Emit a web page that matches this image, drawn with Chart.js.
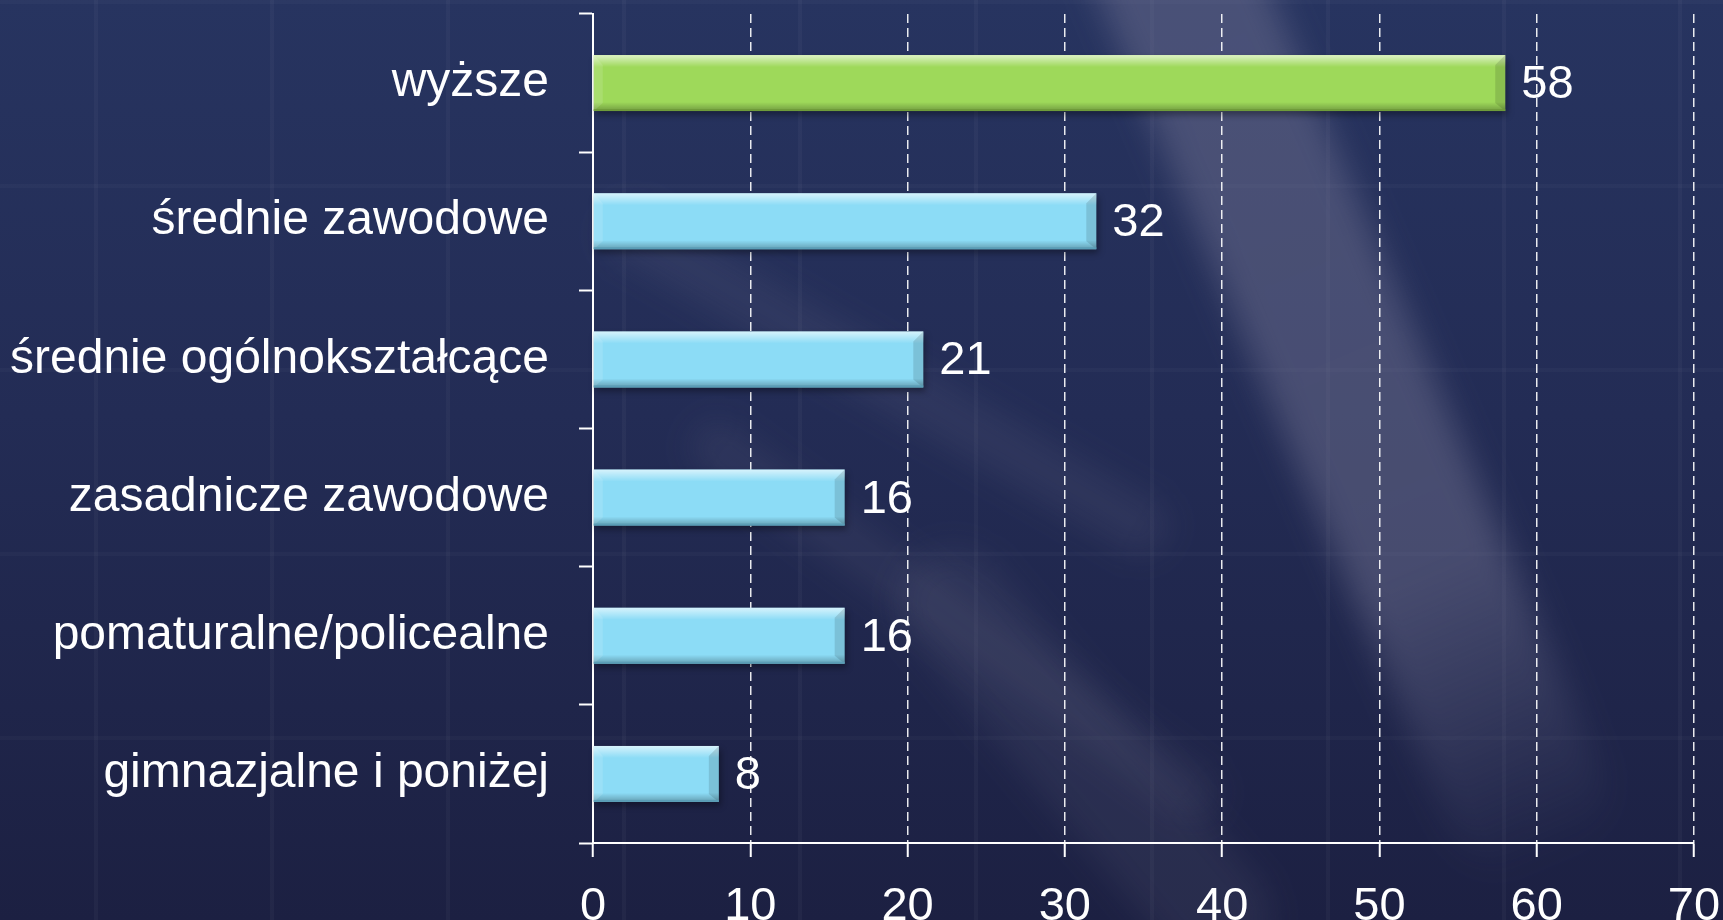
<!DOCTYPE html>
<html>
<head>
<meta charset="utf-8">
<script src="https://cdn.jsdelivr.net/npm/chart.js@4.4.1/dist/chart.umd.min.js"></script>
<style>
  html, body { margin: 0; padding: 0; }
  body {
    position: relative;
    width: 1723px; height: 920px; overflow: hidden;
    background:
      repeating-linear-gradient(90deg, transparent 0 94px, rgba(255,255,255,0.03) 94px 98px, transparent 98px 176px),
      repeating-linear-gradient(0deg, transparent 0 180px, rgba(255,255,255,0.025) 180px 184px),
      linear-gradient(180deg, #273460 0%, #232c55 45%, #1c2042 100%);
  }
  .swoosh { position: absolute; filter: blur(16px); border-radius: 60px; }
  #s1 { left: 1268px; top: -140px; width: 160px; height: 1040px;
        background: linear-gradient(180deg, rgba(125,125,155,0.40) 0%, rgba(125,125,155,0.42) 70%, rgba(125,125,155,0) 100%);
        transform: rotate(-23deg); }
  #s2 { left: 860px; top: 60px; width: 55px; height: 640px; background: rgba(120,120,150,0.14); transform: rotate(-60deg); }
  #s3 { left: 930px; top: 300px; width: 50px; height: 640px; background: rgba(120,120,150,0.13); transform: rotate(-54deg); }
  #s4 { left: 1030px; top: 500px; width: 110px; height: 520px; background: rgba(120,120,150,0.13); transform: rotate(-40deg); }
  #wrap { position: absolute; left: 0; top: 0; width: 1723px; height: 920px; }
</style>
</head>
<body>
<div class="swoosh" id="s1"></div>
<div class="swoosh" id="s2"></div>
<div class="swoosh" id="s3"></div>
<div class="swoosh" id="s4"></div>
<div id="wrap"><canvas id="edu_chart"></canvas></div>
<script>
// chart data
var categories = ['wyższe', 'średnie zawodowe', 'średnie ogólnokształcące', 'zasadnicze zawodowe', 'pomaturalne/policealne', 'gimnazjalne i poniżej'];
var values = [58, 32, 21, 16, 16, 8];
var barColors = ['#9ed95a', '#8cdcf6', '#8cdcf6', '#8cdcf6', '#8cdcf6', '#8cdcf6'];
var edgeColors = ['#6f9c3a', '#5a9db6', '#5a9db6', '#5a9db6', '#5a9db6', '#5a9db6'];

var fontFam = '"Liberation Sans", Arial, sans-serif';

// bevel look + value labels, drawn from the bar elements
const barExtras = {
  id: 'barExtras',
  beforeDatasetsDraw(chart) {
    // soft shadow under bars
    const ctx = chart.ctx;
    chart.getDatasetMeta(0).data.forEach(function(bar) {
      const p = bar.getProps(['x', 'y', 'base', 'height'], true);
      ctx.save();
      ctx.fillStyle = 'rgba(0,0,0,0.35)';
      ctx.filter = 'blur(3px)';
      ctx.fillRect(p.base + 2, p.y - p.height / 2 + 4, p.x - p.base, p.height);
      ctx.restore();
    });
  },
  afterDatasetsDraw(chart) {
    const ctx = chart.ctx;
    const meta = chart.getDatasetMeta(0);
    meta.data.forEach(function(bar, i) {
      const p = bar.getProps(['x', 'y', 'base', 'height'], true);
      const left = p.base, right = p.x, top = p.y - p.height / 2, bottom = p.y + p.height / 2;
      ctx.save();
      // top light
      let g = ctx.createLinearGradient(0, top, 0, top + 12);
      g.addColorStop(0, 'rgba(255,255,255,0.65)');
      g.addColorStop(1, 'rgba(255,255,255,0)');
      ctx.fillStyle = g;
      ctx.fillRect(left, top, right - left, 12);
      // bottom dark
      g = ctx.createLinearGradient(0, bottom - 9, 0, bottom);
      g.addColorStop(0, 'rgba(0,0,0,0)');
      g.addColorStop(1, 'rgba(0,0,0,0.28)');
      ctx.fillStyle = g;
      ctx.fillRect(left, bottom - 9, right - left, 9);
      // left bevel
      ctx.fillStyle = 'rgba(255,255,255,0.12)';
      ctx.beginPath();
      ctx.moveTo(left, top);
      ctx.lineTo(left + 9, top + 10);
      ctx.lineTo(left + 9, bottom - 8);
      ctx.lineTo(left, bottom);
      ctx.closePath();
      ctx.fill();
      // right bevel
      ctx.fillStyle = 'rgba(0,0,0,0.12)';
      ctx.beginPath();
      ctx.moveTo(right, top);
      ctx.lineTo(right - 10, top + 10);
      ctx.lineTo(right - 10, bottom - 8);
      ctx.lineTo(right, bottom);
      ctx.closePath();
      ctx.fill();
      ctx.fillStyle = edgeColors[i];
      ctx.fillRect(left, bottom - 2, right - left, 2);
      // value
      ctx.fillStyle = '#ffffff';
      ctx.font = '47px ' + fontFam;
      ctx.textAlign = 'left';
      ctx.textBaseline = 'middle';
      ctx.fillText(String(values[i]), right + 16, p.y + 2);
      ctx.restore();
    });
  }
};

const config = {
  type: 'bar',
  data: {
    labels: categories,
    datasets: [{
      data: values,
      backgroundColor: barColors,
      borderWidth: 0,
      barPercentage: 0.405,
      categoryPercentage: 1
    }]
  },
  options: {
    indexAxis: 'y',
    responsive: false,
    animation: false,
    layout: { padding: { top: 14, right: 29, left: 0, bottom: 0 } },
    plugins: {
      legend: { display: false },
      tooltip: { enabled: false }
    },
    scales: {
      x: {
        min: 0,
        max: 70,
        ticks: {
          stepSize: 10,
          color: '#ffffff',
          padding: 22,
          font: { family: fontFam, size: 47 }
        },
        grid: {
          color: 'rgba(255,255,255,0.9)',
          lineWidth: 1.5,
          tickColor: '#ffffff',
          tickLength: 14,
          tickWidth: 2
        },
        border: { display: true, color: '#ffffff', width: 2, dash: [9, 5] },
        afterFit: function(scale) {
          scale.height = 77;
          scale.paddingLeft = 0;
          scale.paddingRight = 0;
        }
      },
      y: {
        ticks: {
          color: '#ffffff',
          padding: 30,
          font: { family: fontFam, size: 48 }
        },
        grid: {
          drawOnChartArea: false,
          tickColor: '#ffffff',
          tickLength: 14,
          tickWidth: 2
        },
        border: { display: true, color: '#ffffff', width: 2 },
        afterFit: function(scale) {
          scale.width = 593;
          scale.paddingTop = 0;
          scale.paddingBottom = 0;
        }
      }
    }
  },
  plugins: [barExtras]
};

window.onload = function() {
  var cv = document.getElementById('edu_chart');
  cv.width = 1723;
  cv.height = 920;
  cv.style.width = '1723px';
  cv.style.height = '920px';
  new Chart(cv.getContext('2d'), config);
};
</script>
</body>
</html>
